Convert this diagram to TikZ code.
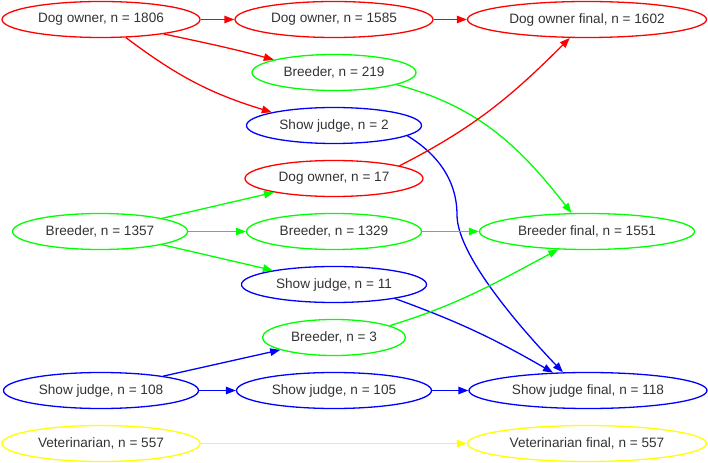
\documentclass[tikz,border=0pt]{standalone}
\usepackage{fontspec}
\setmainfont{Liberation Sans}
\usetikzlibrary{shapes.geometric,arrows.meta}
\definecolor{cred}{RGB}{255,0,0}
\definecolor{cgreen}{RGB}{0,255,0}
\definecolor{cblue}{RGB}{0,0,255}
\definecolor{cyellow}{RGB}{255,255,0}
\definecolor{txt}{RGB}{51,51,51}
\begin{document}
\begin{tikzpicture}[x=1bp,y=1bp,
  nd/.style={ellipse, draw, line width=1.3bp, inner sep=0pt, minimum height=36bp,
    font=\fontsize{13.6bp}{16bp}\selectfont, text=txt},
  ar/.style={line width=1.3bp, -{Triangle[length=10bp,width=7.5bp]}},
]
\useasboundingbox (0,0) rectangle (708,-463);
\node[nd,draw=cred,minimum width=198bp] (do1806) at (101,-19.5) {Dog owner, n = 1806};
\node[nd,draw=cred,minimum width=198bp] (do1585) at (334,-19.5) {Dog owner, n = 1585};
\node[nd,draw=cred,minimum width=239bp] (dof) at (587,-19.5) {Dog owner final, n = 1602};
\node[nd,draw=cgreen,minimum width=164bp] (b219) at (334,-72.5) {Breeder, n = 219};
\node[nd,draw=cblue,minimum width=175bp] (sj2) at (334,-125.5) {Show judge, n = 2};
\node[nd,draw=cred,minimum width=178bp] (do17) at (334,-178.5) {Dog owner, n = 17};
\node[nd,draw=cgreen,minimum width=175bp] (b1357) at (100,-231.5) {Breeder, n = 1357};
\node[nd,draw=cgreen,minimum width=175bp] (b1329) at (334,-231.5) {Breeder, n = 1329};
\node[nd,draw=cgreen,minimum width=215bp] (bf) at (587,-231.5) {Breeder final, n = 1551};
\node[nd,draw=cblue,minimum width=185bp] (sj11) at (334,-284.5) {Show judge, n = 11};
\node[nd,draw=cgreen,minimum width=143bp] (b3) at (334,-337.5) {Breeder, n = 3};
\node[nd,draw=cblue,minimum width=195bp] (sj108) at (101,-390.5) {Show judge, n = 108};
\node[nd,draw=cblue,minimum width=195bp] (sj105) at (334,-390.5) {Show judge, n = 105};
\node[nd,draw=cblue,minimum width=238bp] (sjf) at (588,-390.5) {Show judge final, n = 118};
\node[nd,draw=cyellow,minimum width=198bp] (vet) at (101,-443.5) {Veterinarian, n = 557};
\node[nd,draw=cyellow,minimum width=239bp] (vetf) at (587,-443.5) {Veterinarian final, n = 557};

\draw[ar,cred] (do1806) -- (do1585);
\draw[ar,cred] (do1585) -- (dof);
\draw[ar,cred] (do1806.-13) to[out=-12,in=165] (b219.168);
\draw[ar,cred] (do1806.-36) to[out=-37,in=163] (sj2.168);
\draw[ar,cgreen] (b219.-11) to[out=-15,in=128] (bf.130);
\draw[ar,cblue] (sj2.-8) .. controls (431,-150) and (457,-175) .. (457,-215)
   .. controls (457,-258) and (530,-338) .. (sjf.144);
\draw[ar,cred] (do17.11) to[out=27,in=-135] (dof.-133);
\draw[ar,cgreen] (b1357.12) -- (do17.-167);
\draw[ar,cgreen] (b1357) -- (b1329);
\draw[ar,cgreen] (b1357.-12) -- (sj11.167);
\draw[ar,cgreen] (b1329) -- (bf);
\draw[ar,cblue] (sj11.-13) to[out=-20,in=150] (sjf.153);
\draw[ar,cgreen] (b3.12) to[out=17,in=-152] (bf.-148);
\draw[ar,cblue] (sj108.13) -- (b3.-167);
\draw[ar,cblue] (sj108) -- (sj105);
\draw[ar,cblue] (sj105) -- (sjf);
\draw[ar,cyellow] (vet) -- (vetf);
\end{tikzpicture}
\end{document}
